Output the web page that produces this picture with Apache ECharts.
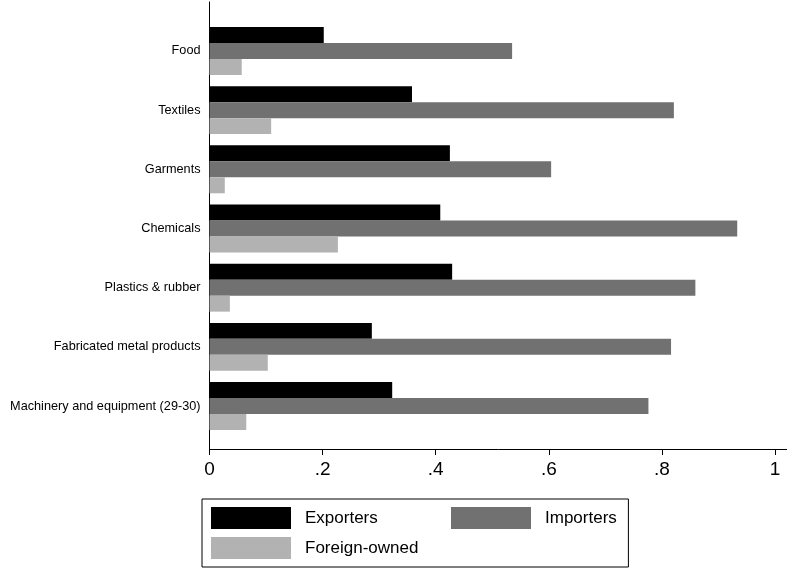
<!DOCTYPE html>
<html><head><meta charset="utf-8">
<script src="https://cdn.jsdelivr.net/npm/echarts@6/dist/echarts.min.js"></script>
<style>html,body{margin:0;padding:0;background:#fff}#c{width:787px;height:569px}</style>
</head><body><div id="c"></div>
<script>
const categories = ["Food","Textiles","Garments","Chemicals","Plastics & rubber","Fabricated metal products","Machinery and equipment (29-30)"];
const exporters = [0.202, 0.358, 0.425, 0.408, 0.429, 0.287, 0.323];
const importers = [0.535, 0.821, 0.604, 0.933, 0.859, 0.816, 0.776];
const foreignOwned = [0.057, 0.109, 0.027, 0.227, 0.036, 0.103, 0.065];
const xTicks = [0, 0.2, 0.4, 0.6, 0.8, 1];
const xTickLabels = ["0", ".2", ".4", ".6", ".8", "1"];

const xMax = 1.021;
const font = "Liberation Sans, Arial, sans-serif";
const legendCommon = {
  itemGap: 8,
  itemWidth: 80, itemHeight: 22,
  icon: 'rect',
  textStyle: {color: '#000', fontSize: 17, fontFamily: font, padding: [0, 0, 0, 9]}
};
const chart = echarts.init(document.getElementById('c'));
chart.setOption({
  animation: false,
  backgroundColor: '#fff',
  grid: [
    {left: 209.5, right: 0, top: 21.4, bottom: 133.4},
    {left: 209.5, right: 0, top: 2, bottom: 120}
  ],
  xAxis: [
    {gridIndex: 0, type: 'value', min: 0, max: xMax, show: false},
    {gridIndex: 1, type: 'value', min: 0, max: xMax,
     axisLine: {show: true, lineStyle: {color: '#000', width: 1}},
     axisTick: {show: true, length: 6, lineStyle: {color: '#000'}, customValues: xTicks},
     axisLabel: {color: '#000', fontSize: 19, fontFamily: font, margin: 11,
       customValues: xTicks,
       formatter: v => { const i = xTicks.findIndex(t => Math.abs(t - v) < 1e-9); return i >= 0 ? xTickLabels[i] : ''; }},
     splitLine: {show: false}}
  ],
  yAxis: [
    {gridIndex: 0, type: 'category', data: categories, inverse: true,
     axisLine: {show: false}, axisTick: {show: false},
     axisLabel: {color: '#000', fontSize: 12.7, fontFamily: font, margin: 9, padding: [4, 0, 0, 0]}},
    {gridIndex: 1, type: 'value', min: 0, max: 1,
     axisLine: {show: true, onZero: false, lineStyle: {color: '#000', width: 1}},
     axisTick: {show: false}, axisLabel: {show: false}, splitLine: {show: false}}
  ],
  legend: [
    Object.assign({}, legendCommon, {
      left: 202, top: 499, orient: 'vertical',
      padding: [8, 210, 8, 9],
      borderColor: '#000', borderWidth: 1, borderRadius: 0,
      data: ['Exporters', 'Foreign-owned']
    }),
    Object.assign({}, legendCommon, {
      left: 451, top: 507, padding: 0,
      data: ['Importers']
    })
  ],
  series: [
    {name: 'Exporters', type: 'bar', xAxisIndex: 0, yAxisIndex: 0, data: exporters,
     itemStyle: {color: '#000'}, barGap: '0%', barCategoryGap: '19%'},
    {name: 'Importers', type: 'bar', xAxisIndex: 0, yAxisIndex: 0, data: importers,
     itemStyle: {color: '#717171'}, barGap: '0%', barCategoryGap: '19%'},
    {name: 'Foreign-owned', type: 'bar', xAxisIndex: 0, yAxisIndex: 0, data: foreignOwned,
     itemStyle: {color: '#b2b2b2'}, barGap: '0%', barCategoryGap: '19%'}
  ]
});
</script></body></html>
